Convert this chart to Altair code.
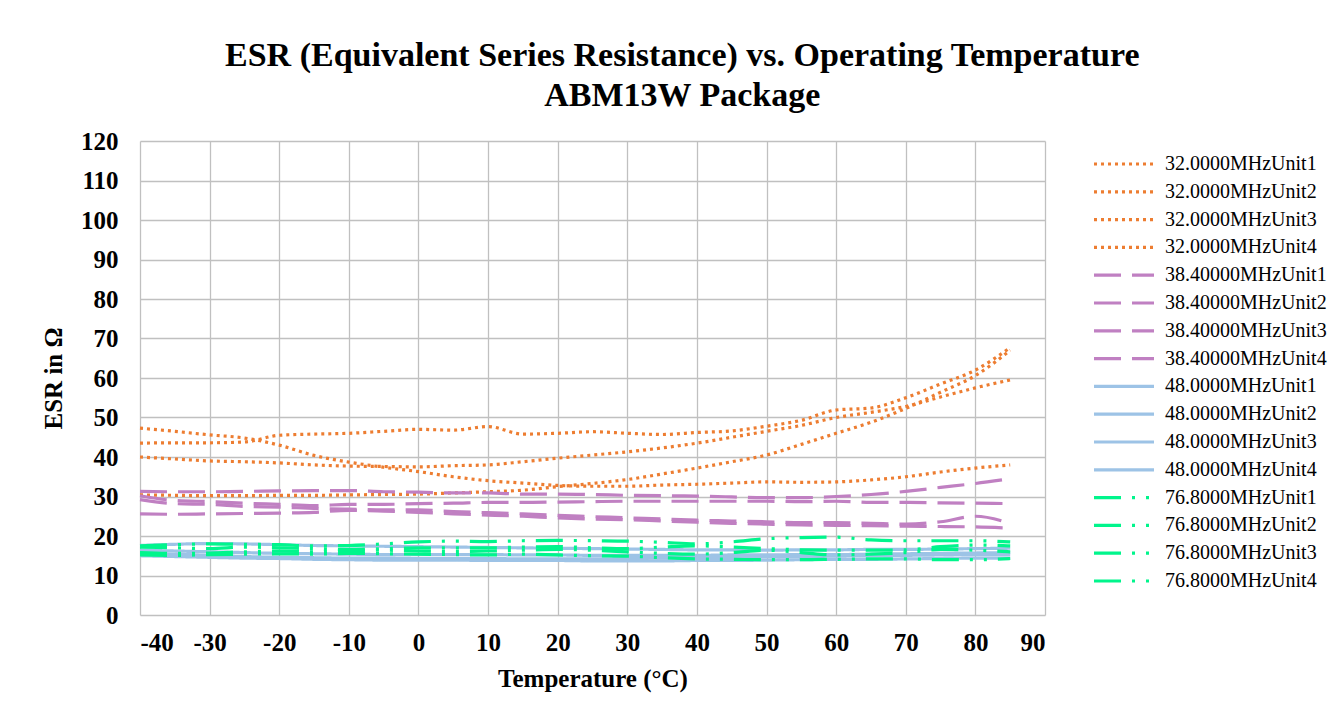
import altair as alt
import pandas as pd

temps = [-40, -35, -30, -25, -20, -15, -10, -5, 0, 5, 10, 15, 20, 25, 30, 35, 40, 45, 50, 55, 60, 65, 70, 75, 80, 85]

f32_u1 = [47.3, 46.5, 45.6, 44.8, 43.0, 40.4, 38.7, 37.4, 36.3, 35.0, 34.0, 33.4, 32.8, 32.6, 32.6, 32.9, 33.1, 33.4, 33.7, 33.6, 33.7, 34.2, 35.0, 36.2, 37.2, 38.0]
f32_u2 = [43.5, 43.6, 43.6, 43.8, 45.5, 45.8, 46.0, 46.5, 47.0, 46.8, 47.7, 45.8, 46.0, 46.4, 46.0, 45.7, 46.2, 46.6, 47.8, 49.3, 51.9, 52.4, 55.0, 58.5, 62.0, 67.7]
f32_u3 = [40.0, 39.5, 39.0, 38.8, 38.5, 38.0, 37.7, 37.6, 37.5, 37.8, 38.0, 38.8, 39.7, 40.5, 41.3, 42.3, 43.5, 45.0, 46.5, 48.0, 50.0, 51.3, 52.8, 55.2, 57.5, 59.5]
f32_u4 = [30.4, 30.3, 30.2, 30.2, 30.3, 30.3, 30.4, 30.5, 30.6, 30.9, 31.2, 31.6, 32.5, 33.3, 34.3, 35.7, 37.2, 38.8, 40.5, 43.2, 46.0, 48.8, 52.3, 56.4, 60.6, 67.0]

f38_u1 = [31.3, 31.2, 31.2, 31.3, 31.4, 31.5, 31.5, 31.2, 31.1, 30.9, 30.9, 30.6, 30.6, 30.5, 30.3, 30.2, 30.1, 29.9, 29.7, 29.7, 30.0, 30.5, 31.3, 32.3, 33.3, 34.5]
f38_u2 = [30.2, 29.0, 28.7, 28.3, 28.0, 27.7, 28.0, 28.0, 28.2, 28.3, 28.5, 28.5, 28.6, 28.7, 28.8, 28.8, 28.8, 28.8, 28.8, 28.7, 28.8, 28.5, 28.5, 28.4, 28.3, 28.2]
f38_u3 = [29.2, 28.2, 28.0, 27.5, 27.3, 27.0, 26.8, 26.6, 26.6, 26.2, 25.9, 25.6, 25.2, 24.9, 24.6, 24.3, 24.0, 23.8, 23.6, 23.4, 23.4, 23.2, 23.0, 23.6, 25.0, 23.2]
f38_u4 = [25.6, 25.5, 25.6, 25.7, 25.8, 26.0, 26.5, 26.3, 26.0, 25.6, 25.3, 25.0, 24.6, 24.3, 24.1, 23.8, 23.5, 23.2, 23.0, 22.8, 22.7, 22.6, 22.5, 22.4, 22.3, 22.0]

f48_u1 = [17.6, 17.9, 18.1, 18.0, 17.8, 17.6, 17.5, 17.4, 17.3, 17.2, 17.1, 17.0, 16.9, 16.8, 16.7, 16.6, 16.5, 16.5, 16.4, 16.5, 16.5, 16.6, 16.6, 16.7, 16.8, 16.9]
f48_u2 = [16.4, 16.2, 16.0, 15.8, 15.6, 15.5, 15.4, 15.3, 15.3, 15.3, 15.3, 15.2, 15.2, 15.1, 15.1, 15.1, 15.1, 15.2, 15.2, 15.3, 15.3, 15.4, 15.5, 15.6, 15.7, 15.8]
f48_u3 = [15.6, 15.4, 15.1, 14.8, 14.6, 14.5, 14.4, 14.4, 14.3, 14.3, 14.3, 14.2, 14.2, 14.2, 14.3, 14.4, 14.5, 14.6, 14.7, 14.8, 14.9, 15.0, 15.1, 15.2, 15.3, 15.3]
f48_u4 = [15.0, 14.8, 14.6, 14.4, 14.3, 14.1, 14.0, 13.9, 13.9, 13.9, 13.8, 13.8, 13.8, 13.7, 13.7, 13.7, 13.8, 13.8, 13.9, 14.0, 14.1, 14.1, 14.2, 14.3, 14.4, 14.4]

f76_u1 = [17.5, 17.8, 18.0, 17.9, 17.8, 17.5, 17.6, 18.0, 18.5, 18.7, 18.6, 18.8, 18.9, 18.8, 18.7, 18.4, 18.0, 18.5, 19.3, 19.6, 19.7, 19.0, 18.8, 18.8, 18.8, 18.5]
f76_u2 = [17.2, 17.0, 16.8, 17.2, 17.0, 16.8, 16.6, 16.8, 17.0, 17.0, 17.0, 17.2, 17.3, 17.0, 16.8, 17.2, 17.5, 17.2, 16.8, 16.5, 16.4, 16.4, 16.5, 17.3, 17.7, 17.5]
f76_u3 = [15.8, 15.6, 15.7, 16.0, 16.2, 16.0, 16.3, 16.4, 16.2, 16.1, 16.2, 16.4, 16.6, 16.4, 16.0, 15.6, 15.4, 15.8, 16.4, 15.8, 15.2, 15.4, 15.8, 16.6, 16.4, 16.0]
f76_u4 = [15.2, 15.1, 15.3, 15.4, 15.5, 15.4, 15.6, 15.5, 15.4, 15.3, 15.2, 15.4, 15.2, 15.0, 14.9, 14.5, 14.2, 14.1, 14.0, 14.0, 14.1, 14.2, 14.2, 14.0, 14.0, 14.3]

series_names = [
    "32.0000MHzUnit1", "32.0000MHzUnit2", "32.0000MHzUnit3", "32.0000MHzUnit4",
    "38.40000MHzUnit1", "38.40000MHzUnit2", "38.40000MHzUnit3", "38.40000MHzUnit4",
    "48.0000MHzUnit1", "48.0000MHzUnit2", "48.0000MHzUnit3", "48.0000MHzUnit4",
    "76.8000MHzUnit1", "76.8000MHzUnit2", "76.8000MHzUnit3", "76.8000MHzUnit4",
]
series_values = [f32_u1, f32_u2, f32_u3, f32_u4, f38_u1, f38_u2, f38_u3, f38_u4,
                 f48_u1, f48_u2, f48_u3, f48_u4, f76_u1, f76_u2, f76_u3, f76_u4]

orange, purple, blue, green = "#ED7D31", "#C080C2", "#9DC3E6", "#00F58C"
colors = [orange] * 4 + [purple] * 4 + [blue] * 4 + [green] * 4
dashes = [[3, 4]] * 4 + [[27, 11]] * 4 + [[1, 0]] * 4 + [[27, 11, 3, 11, 3, 11]] * 4
widths = [3.2] * 4 + [4] * 4 + [4.5] * 4 + [4] * 4

rows = []
for name, vals in zip(series_names, series_values):
    for t, v in zip(temps, vals):
        rows.append({"T": t, "ESR": v, "series": name})
df = pd.DataFrame(rows)

FONT = "Liberation Serif"

leg = alt.Legend(
    title=None, orient="none", legendX=992, legendY=11,
    symbolType="M-5,0H1", symbolSize=400, labelOffset=9,
    labelFont=FONT, labelFontSize=20, labelColor="#000000",
    rowPadding=5.8, labelLimit=400, padding=0,
)

chart = alt.Chart(df).mark_line(interpolate="monotone").encode(
    x=alt.X("T:Q", scale=alt.Scale(domain=[-40, 90], nice=False, zero=False),
            axis=alt.Axis(values=list(range(-40, 91, 10)), title="Temperature (°C)",
                          labelExpr="datum.value")),
    y=alt.Y("ESR:Q", scale=alt.Scale(domain=[0, 120], nice=False),
            axis=alt.Axis(values=list(range(0, 121, 10)), title="ESR in Ω")),
    color=alt.Color("series:N", scale=alt.Scale(domain=series_names, range=colors), legend=leg),
    strokeDash=alt.StrokeDash("series:N", scale=alt.Scale(domain=series_names, range=dashes), legend=leg),
    strokeWidth=alt.StrokeWidth("series:N", scale=alt.Scale(domain=series_names, range=widths), legend=leg),
    order=alt.Order("T:Q"),
).properties(
    width=905, height=474,
    autosize=alt.AutoSizeParams(type="none"),
    padding={"left": 132, "top": 133, "right": 284, "bottom": 80},
    title=alt.TitleParams(
        text=["ESR (Equivalent Series Resistance) vs. Operating Temperature", "ABM13W Package"],
        font=FONT, fontSize=34, fontWeight="bold", color="#000000",
        anchor="middle", frame="bounds", lineHeight=40, offset=16, dx=-2,
    ),
).configure_view(stroke=None).configure_axis(
    grid=True, gridColor="#C0C0C0", gridWidth=1.3, domain=False, ticks=False,
    labelFont=FONT, labelFontSize=25, labelFontWeight="bold", labelColor="#000000",
    titleFont=FONT, titleFontSize=25, titleFontWeight="bold", titleColor="#000000",
).configure_axisX(labelPadding=15, titlePadding=11).configure_axisY(labelPadding=22, titlePadding=14)

chart.save("out.html", embed_options={"renderer": "svg", "actions": False})
